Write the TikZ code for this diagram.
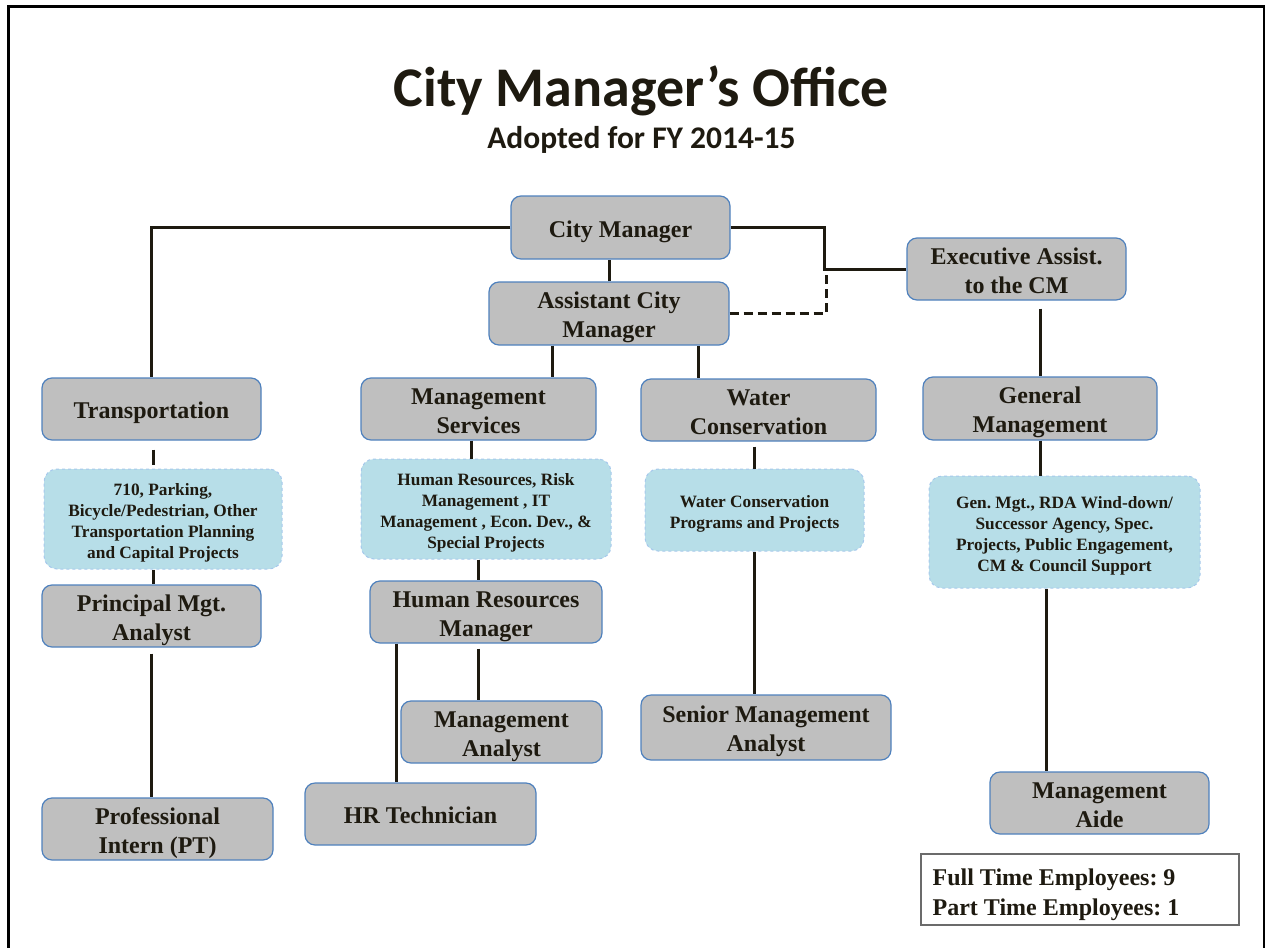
\documentclass[tikz,border=0pt]{standalone}
\usepackage{fontspec}
\setmainfont{Liberation Serif}
\newfontfamily\titlefont{Carlito}
\usetikzlibrary{calc}

\definecolor{ink}{HTML}{1E1A10}
\definecolor{boxgray}{HTML}{BFBFBF}
\definecolor{boxedge}{HTML}{4F81BD}
\definecolor{noteblue}{HTML}{B7DEE8}
\definecolor{noteedge}{HTML}{A6C8EC}
\definecolor{empedge}{HTML}{6B6B6B}

% stacked lines, spaced by struts and set a little low in their box
\newcommand\stackc[2]{\raisebox{-#1}[\height][\depth]{\begin{tabular}{@{}c@{}}#2\end{tabular}}}
\newcommand\stackl[2]{\raisebox{-#1}[\height][\depth]{\begin{tabular}{@{}l@{}}#2\end{tabular}}}
\newcommand\gtext[1]{\stackc{3.8pt}{#1}}
\newcommand\ntext[1]{\stackc{3.65pt}{#1}}

\tikzset{
  post/.style={draw=boxedge, line width=1.2pt, fill=boxgray, rounded corners=10pt,
    inner sep=0pt, font=\fontsize{24}{29}\selectfont\bfseries, text=ink},
  note/.style={draw=noteedge, dashed, line width=1pt, fill=noteblue, rounded corners=13pt,
    inner sep=0pt, font=\fontsize{17.3}{21}\selectfont\bfseries, text=ink},
  link/.style={draw=ink, line width=3pt},
  dottedlink/.style={draw=ink, line width=3pt, dash pattern=on 9pt off 5pt},
  size/.style 2 args={minimum width=#1pt, minimum height=#2pt},
}

\begin{document}
\frenchspacing
\begin{tikzpicture}[x=1pt, y=-1pt]
\useasboundingbox (0,0) rectangle (1265,947);

% page frame, open at the bottom
\draw[line width=3pt] (8.3,960) -- (8.3,7) -- (1264.5,7) -- (1264.5,960);

% headings
\node[anchor=base, font=\titlefont\fontsize{56}{60}\selectfont\bfseries, text=ink] (title)
  at (641.5,106.5) {City Manager’s Office};
\node[anchor=base, font=\titlefont\fontsize{31.5}{34}\selectfont\bfseries, text=ink] (subtitle)
  at (641.5,148) {Adopted for FY 2014-15};

% positions
\node[post, size={219}{63}] (cm)    at (620.5,227.5) {\gtext{City Manager}};
\node[post, size={240}{63}] (acm)   at (609,313.5)   {\gtext{Assistant City\\Manager}};
\node[post, size={219}{62}] (exec)  at (1016.5,269)  {\gtext{Executive Assist.\\to the CM}};
\node[post, size={219}{62}] (trans) at (151.5,409)   {\gtext{Transportation}};
\node[post, size={235}{62}] (ms)    at (478.5,409)   {\gtext{Management\\Services}};
\node[post, size={235}{62}] (wc)    at (758.5,410)   {\gtext{Water\\Conservation}};
\node[post, size={234}{63}] (gm)    at (1040,408.5)  {\gtext{General\\Management}};

% program areas
\node[note, size={238}{100}] (b1) at (163,519)
  {\ntext{710, Parking,\\Bicycle/Pedestrian, Other\\Transportation Planning\\and Capital Projects}};
\node[note, size={250}{100}] (b2) at (486,509)
  {\ntext{Human Resources, Risk\\Management , IT\\Management , Econ. Dev., \&\\Special Projects}};
\node[note, size={219}{82}] (b3) at (754.5,510)
  {\ntext{Water Conservation\\Programs and Projects}};
\node[note, size={271}{112}] (b4) at (1064.5,532)
  {\ntext{Gen. Mgt., RDA Wind-down/\\Successor Agency, Spec.\\Projects, Public Engagement,\\CM \& Council Support}};

\node[post, size={219}{62}] (pma)  at (151.5,616)  {\gtext{Principal Mgt.\\Analyst}};
\node[post, size={232}{62}] (hrm)  at (486,612)    {\gtext{Human Resources\\Manager}};
\node[post, size={201}{62}] (ma)   at (501.5,732)  {\gtext{Management\\Analyst}};
\node[post, size={231}{62}] (hrt)  at (420.5,814)  {\gtext{HR Technician}};
\node[post, size={250}{65}] (sma)  at (766,727.5)  {\gtext{Senior Management\\Analyst}};
\node[post, size={231}{62}] (pi)   at (157.5,829)  {\gtext{Professional\\Intern (PT)}};
\node[post, size={219}{62}] (aide) at (1099.5,803) {\gtext{Management\\Aide}};

% staffing totals
\node[draw=empedge, line width=1.2pt, fill=white, size={318}{71}, inner sep=0pt]
  (emp) at (1080,889.5) {};
\node[anchor=west, inner sep=0pt, font=\fontsize{24}{30}\selectfont\bfseries, text=ink]
  (emptext) at ([xshift=12pt]emp.west)
  {\stackl{5.2pt}{Full Time Employees: 9\\Part Time Employees: 1}};

% reporting lines
\coordinate (jn) at (824,227.5);
\coordinate (dj) at (826,270);
\draw[link] (cm.west) -| (trans.north);
\draw[link] (cm.east) -- (jn) |- (exec.west);
\draw[dottedlink] (acm.east) -| (dj);
\draw[link] (acm.north) -- (acm.north |- cm.south);

\coordinate (msj) at ([xshift=-57pt]acm.south);
\draw[link] (msj) -- (msj |- ms.north);
\coordinate (wcj) at ([xshift=89pt]acm.south);
\draw[link] (wcj) -- (wcj |- wc.north);
\draw[link, shorten <=8pt] (gm.north |- exec.south) -- (gm.north);

\coordinate (trj) at ([xshift=1.5pt]trans.south);
\draw[link, shorten <=9pt, shorten >=4pt] (trj) -- (trj |- b1.north);
\draw[link] (trj |- b1.south) -- (trj |- pma.north);
\draw[link, shorten <=6pt] (pma.south) -- (pma.south |- pi.north);

\coordinate (msb) at ([xshift=-7.5pt]ms.south);
\draw[link] (msb) -- (msb |- b2.north);
\coordinate (hrj) at ([xshift=-8pt]hrm.north);
\draw[link] (hrj |- b2.south) -- (hrj);
\draw[link, shorten <=5pt] (hrj |- hrm.south) -- (hrj |- ma.north);
\coordinate (htj) at ([xshift=-24.5pt]hrt.north);
\draw[link] (htj |- hrm.south) -- (htj);

\coordinate (wcb) at ([xshift=-4.5pt]wc.south);
\draw[link, shorten <=5pt] (wcb) -- (wcb |- b3.north);
\draw[link] (wcb |- b3.south) -- (wcb |- sma.north);

\draw[link] (gm.south) -- (gm.south |- b4.north);
\coordinate (aij) at ([xshift=-53.5pt]aide.north);
\draw[link] (aij |- b4.south) -- (aij);
\end{tikzpicture}
\end{document}
